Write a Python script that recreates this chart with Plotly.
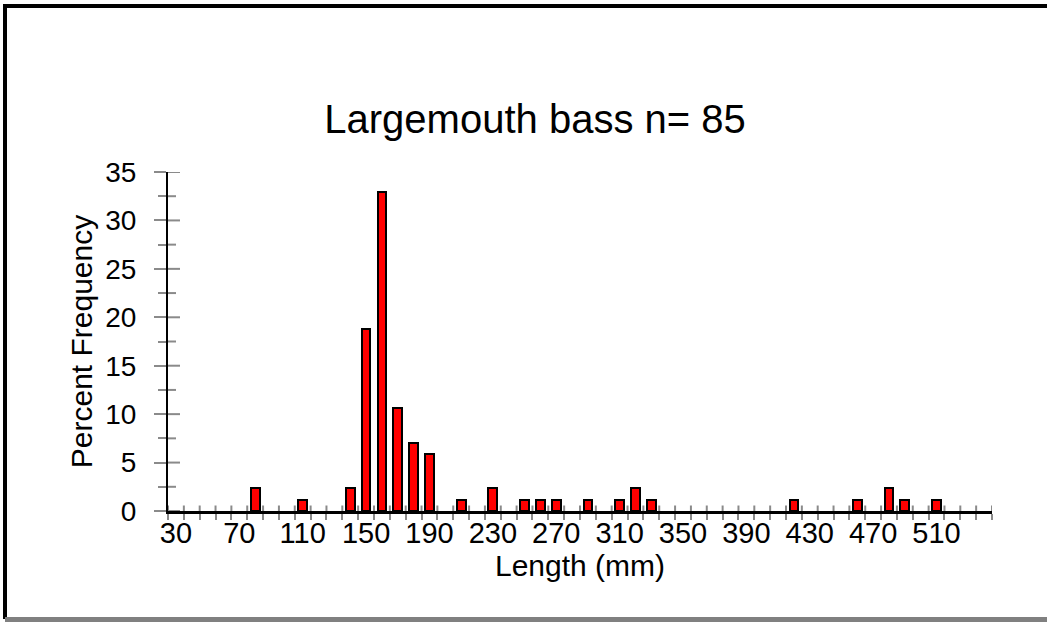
import plotly.graph_objects as go

# Length-frequency data: 10 mm bins, counts of fish per bin
n_fish = 85
bin_centers = [80, 110, 140, 150, 160, 170, 180, 190, 210, 230, 250, 260,
               270, 290, 310, 320, 330, 420, 460, 480, 490, 510]
counts = [2, 1, 2, 16, 28, 9, 6, 5, 1, 2, 1, 1,
          1, 1, 1, 2, 1, 1, 1, 2, 1, 1]
percent = [c / n_fish * 100 for c in counts]

x_label_vals = [30, 70, 110, 150, 190, 230, 270, 310, 350, 390, 430, 470, 510]
bin_edges = list(range(25, 546, 10))
y_major = [0, 5, 10, 15, 20, 25, 30, 35]
y_minor = [2.5, 7.5, 12.5, 17.5, 22.5, 27.5, 32.5]

W, H = 1047, 622
L, R, T, B = 168, 55, 172, 111
FONT = "Liberation Sans, Arial, sans-serif"
TICK_GRAY = "#8a8a8a"
X_TICK_HALF = 5.5
Y_MAJOR_HALF = 12
Y_MINOR_HALF = 8


def px_x(p):
    return (p - L) / (W - L - R)


def px_y(p):
    return 1 - (p - T) / (H - T - B)


fig = go.Figure()
fig.add_trace(go.Bar(
    x=bin_centers, y=percent, width=5.5,
    marker=dict(color="#ff0000", line=dict(color="#000000", width=2)),
    hoverinfo="x+y",
))

shapes = []
# inner halves of the crossing tick marks (outer halves come from the axes)
for e in bin_edges:
    shapes.append(dict(type="line", xref="x", yref="y", ysizemode="pixel",
                       yanchor=0, y0=0, y1=X_TICK_HALF, x0=e, x1=e,
                       line=dict(color=TICK_GRAY, width=2)))
for v in y_major + y_minor:
    half = Y_MAJOR_HALF if v in y_major else Y_MINOR_HALF
    shapes.append(dict(type="line", xref="x", yref="y", xsizemode="pixel",
                       xanchor=25, x0=0, x1=half, y0=v, y1=v,
                       line=dict(color=TICK_GRAY, width=2)))
# frame around the figure
shapes.append(dict(type="line", xref="paper", yref="paper",
                   x0=px_x(3), x1=px_x(W), y0=px_y(6), y1=px_y(6),
                   line=dict(color="#000000", width=4)))
shapes.append(dict(type="line", xref="paper", yref="paper",
                   x0=px_x(5), x1=px_x(5), y0=px_y(4), y1=px_y(619),
                   line=dict(color="#000000", width=4)))
shapes.append(dict(type="line", xref="paper", yref="paper",
                   x0=px_x(5), x1=px_x(W), y0=px_y(619.5), y1=px_y(619.5),
                   line=dict(color="#808080", width=5)))

fig.update_layout(
    width=W, height=H,
    margin=dict(l=L, r=R, t=T, b=B, autoexpand=False),
    paper_bgcolor="white", plot_bgcolor="white",
    showlegend=False,
    bargap=0,
    font=dict(family=FONT, color="#000000"),
    title=dict(text="Largemouth bass n= 85", font=dict(size=40, family=FONT, color="#000000"),
               xref="paper", x=px_x(535), xanchor="center",
               yref="container", y=1 - 119 / H, yanchor="middle"),
    shapes=shapes,
    xaxis=dict(range=[25, 545], tickmode="array", tickvals=x_label_vals,
               ticktext=[str(v) for v in x_label_vals], ticks="",
               ticklabelstandoff=-6,
               minor=dict(tickmode="array", tickvals=bin_edges, ticks="outside",
                          ticklen=X_TICK_HALF, tickwidth=2, tickcolor=TICK_GRAY,
                          showgrid=False),
               tickfont=dict(size=29, family=FONT, color="#000000"),
               showgrid=False, zeroline=False, layer="above traces",
               showline=True, linecolor="#000000", linewidth=3,
               title=dict(text="Length (mm)", standoff=4,
                          font=dict(size=30, family=FONT, color="#000000"))),
    yaxis=dict(range=[0, 35], tickmode="array", tickvals=y_major,
               ticks="outside", ticklen=Y_MAJOR_HALF, tickwidth=2, tickcolor=TICK_GRAY,
               minor=dict(tickmode="array", tickvals=y_minor, ticks="outside",
                          ticklen=Y_MINOR_HALF, tickwidth=2, tickcolor=TICK_GRAY,
                          showgrid=False),
               ticklabelstandoff=12,
               tickfont=dict(size=28, family=FONT, color="#000000"),
               showgrid=False, zeroline=False,
               showline=True, linecolor="#000000", linewidth=2,
               title=dict(text="Percent Frequency", standoff=4,
                          font=dict(size=30, family=FONT, color="#000000"))),
)

fig.write_html("out.html")
